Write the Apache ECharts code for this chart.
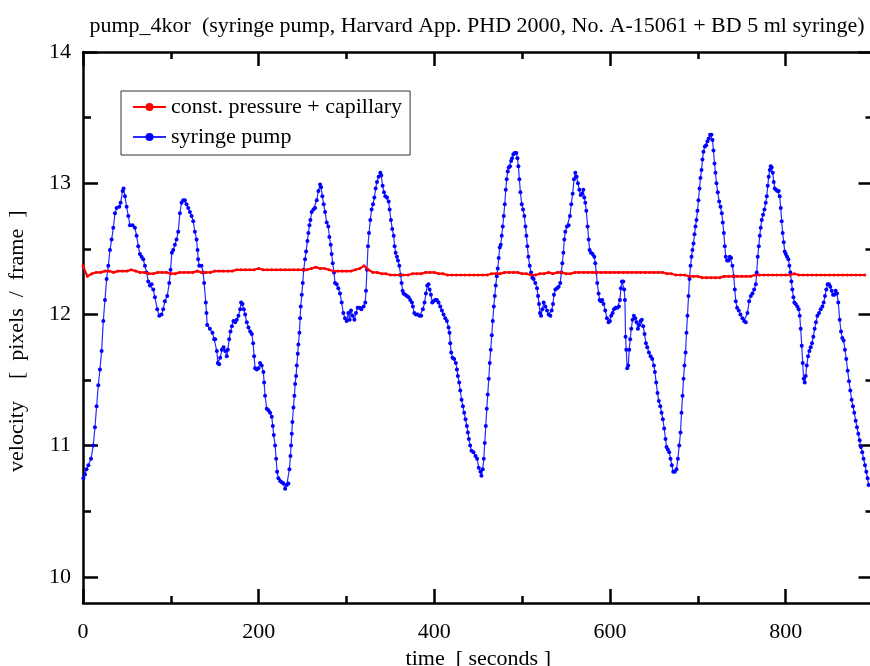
<!DOCTYPE html>
<html>
<head>
<meta charset="utf-8">
<script src="https://cdn.jsdelivr.net/npm/echarts@6/dist/echarts.min.js"></script>
<style>
html,body{margin:0;padding:0;background:#fff;}
#chart{width:870px;height:666px;}
</style>
</head>
<body>
<div id="chart"></div>
<script>
// ---- data ----
const titleText = 'pump_4kor  (syringe pump, Harvard App. PHD 2000, No. A-15061 + BD 5 ml syringe)';
const xName = 'time  [ seconds ]';
const yName = 'velocity    [  pixels  /  frame  ]\u00a0\u00a0\u00a0\u00a0\u00a0';
const seriesNames = ['const. pressure + capillary', 'syringe pump'];

const xMajorTicks = [0, 200, 400, 600, 800];
const xMinorTicks = [100, 300, 500, 700];
const yMajorTicks = [10, 11, 12, 13, 14];
const yMinorTicks = [10.5, 11.5, 12.5, 13.5];

// red series: time (s) and velocity
const redT = [0,5,10,15,20,25,30,35,40,45,50,55,60,65,70,75,80,85,90,95,100,105,110,115,120,125,130,135,140,145,150,155,160,165,170,175,180,185,190,195,200,205,210,215,220,225,230,235,240,245,250,255,260,265,270,275,280,285,290,295,300,305,310,315,320,325,330,335,340,345,350,355,360,365,370,375,380,385,390,395,400,405,410,415,420,425,430,435,440,445,450,455,460,465,470,475,480,485,490,495,500,505,510,515,520,525,530,535,540,545,550,555,560,565,570,575,580,585,590,595,600,605,610,615,620,625,630,635,640,645,650,655,660,665,670,675,680,685,690,695,700,705,710,715,720,725,730,735,740,745,750,755,760,765,770,775,780,785,790,795,800,805,810,815,820,825,830,835,840,845,850,855,860,865,870,875,880,885,890,895,900];
const redV = [12.37,12.29,12.31,12.32,12.32,12.33,12.33,12.32,12.33,12.33,12.33,12.34,12.33,12.32,12.32,12.31,12.31,12.32,12.32,12.32,12.31,12.31,12.32,12.32,12.32,12.32,12.33,12.32,12.32,12.32,12.33,12.33,12.33,12.33,12.33,12.34,12.34,12.34,12.34,12.34,12.35,12.34,12.34,12.34,12.34,12.34,12.34,12.34,12.34,12.34,12.34,12.34,12.35,12.36,12.35,12.35,12.34,12.33,12.33,12.33,12.33,12.33,12.34,12.35,12.37,12.34,12.32,12.32,12.31,12.31,12.30,12.30,12.30,12.30,12.30,12.31,12.31,12.31,12.32,12.32,12.32,12.31,12.31,12.30,12.30,12.30,12.30,12.30,12.30,12.30,12.30,12.30,12.30,12.31,12.31,12.31,12.32,12.32,12.32,12.32,12.31,12.31,12.30,12.30,12.31,12.31,12.32,12.31,12.32,12.32,12.31,12.31,12.32,12.32,12.32,12.32,12.32,12.32,12.32,12.32,12.32,12.32,12.32,12.32,12.32,12.32,12.32,12.32,12.32,12.32,12.32,12.32,12.32,12.31,12.31,12.30,12.30,12.30,12.29,12.29,12.29,12.28,12.28,12.28,12.28,12.28,12.29,12.29,12.29,12.29,12.29,12.29,12.29,12.30,12.30,12.30,12.30,12.30,12.30,12.30,12.30,12.30,12.31,12.30,12.30,12.30,12.30,12.30,12.30,12.30,12.30,12.30,12.30,12.30,12.30,12.30,12.30,12.30,12.30];

// blue series: time (s) and velocity
const blueT = [0.4,2.3,4,6.1,9.1,11.7,13.6,15.5,17.4,19.3,21.2,23.1,25,26.9,28.8,30.7,32.6,34.5,36.4,38.3,41.3,42.8,45.1,46.2,47.8,49.7,51.6,53.4,56.5,59.1,61,62.9,64.8,66.7,68.6,70.5,72.4,74.3,76.2,78.1,80,81.9,84.5,86.8,89.4,91.3,93.2,95.9,98.2,99.7,101.2,102.7,104.6,106.5,108.4,110.3,112.2,114.1,116,117.9,119.8,121.7,123.6,125.5,127.4,129.3,130.4,131.1,132.3,134.9,136.8,137.9,139.8,140.6,141.4,144.4,147.4,149.3,150.5,152.4,153.5,155,156.2,158.1,160,161.9,163.7,164.9,166.4,167.9,169.5,171.3,173.2,175.1,177,178.9,180,181.6,183.1,184.6,186.5,188.4,190.3,192.2,193.7,194.8,195.9,197.8,199.7,201.6,203.5,205.4,206.2,207.3,209.2,211.1,213,214.9,216.1,217.2,218.7,219.9,221,222.5,224.4,226.3,228.2,230.1,232,233.9,235,236.2,236.9,237.7,238.4,239.6,240.7,241.5,242.6,243.4,244.5,245.2,246.4,247.2,247.9,249.1,250.2,251.3,252.8,254,255.5,256.6,257.8,258.9,260.4,262.3,264.2,266.1,268,269.9,271,272.5,274,275.6,277.5,279.3,280.5,282,283.1,284.3,285.8,286.9,288.8,290.7,292.6,294.5,296.4,298.3,300.2,302.1,303.6,305.1,307,309,310.8,312.7,315,316.9,319.5,321.4,322.2,323.3,324.5,325.6,327.1,328.6,330.2,331.7,333.2,334.7,336.6,338.5,339.6,341.1,342.7,344.2,346.1,348,349.1,350.6,352.1,353.7,354.8,355.9,357.4,358.6,360.1,361.6,362.7,363.9,365,366.9,368.8,370.7,372.6,374.5,375.6,377.2,379,380.9,383.2,385.1,387,388.9,390.4,391.9,393.4,394.6,396.1,397.6,399.1,401,402.9,404.8,406.7,408.6,410.5,412.4,414.3,416.2,417.3,418.1,419.2,420.7,422.6,424.5,425.7,426.8,428.3,429.5,431,432.5,434,435.5,437,438.2,439.3,440.8,442.3,444.6,446.9,448.7,450.6,452.5,453.6,455.1,456.3,457.4,458.6,459.7,460.8,462,463.1,464.2,465.4,466.5,467.7,468.8,469.9,471.1,472.2,473.3,474.5,475.6,476.7,477.9,479,480.2,481.3,482.4,483.6,484.7,486.2,487.4,488.5,490,491.5,493.4,494.6,495.7,496.8,498,499.5,501,502.5,503.7,504.8,505.9,507.1,508.6,510.1,511.6,513.1,515,516.9,518.1,519.2,520.3,521.5,523,524.5,526.4,528.3,530.2,532.1,533.6,535.1,536.2,537.8,539.7,541.6,543.4,544.6,545.7,546.9,548,549.1,551,552.9,554.4,555.9,557.5,559,560.5,562,563.5,565.1,566.6,568.1,569.6,570.7,571.9,573,574.5,575.7,576.8,578.3,580.2,582.1,583.2,584.4,585.5,587,588.2,589.7,591.2,592.7,594.6,596.5,598.4,599.9,601.4,603,604.5,606.4,608.3,610.2,611.3,612.4,613.6,615.1,616.2,617,617.7,618.5,619.6,620.8,621.9,623,624.2,625.7,627.2,628.7,630.3,631.8,633.3,634.8,636.3,637.8,639.3,640.9,642.4,644.3,646.2,648.1,650,651.1,652.6,654.1,655.6,657.2,658.7,660.2,661.7,663.2,664.4,665.9,667.4,668.9,670.4,672,673.8,675.7,677.3,678.8,680.3,681.4,682.6,683.7,684.8,686,687.1,688.2,689.4,690.5,691.7,692.8,693.9,695.1,696.2,697.3,698.5,699.6,700.7,701.9,703,704.2,705.3,706.4,708,709.5,711,712.5,714,715.5,716.7,717.8,719,720.1,721.2,722.7,724.3,725.8,727.3,728.4,729.6,730.7,731.8,733.3,734.9,736.4,737.9,739.4,740.9,742.1,743.2,744.7,746.6,748.5,750.8,752.7,754.6,756.5,758.4,760.3,762.2,764.1,766,767.1,768.2,769.4,770.5,771.6,772.8,774.3,775.8,777.3,778.5,779.6,780.7,781.9,783,784.1,785.3,786.4,787.6,789.1,790.6,792.1,793.2,794.4,795.5,796.6,797.8,798.9,800.1,801.6,803.1,804.2,805.4,806.5,807.6,808.8,809.9,811.4,813.3,814.8,816,817.1,818.3,819.4,820.5,821.7,822.8,824,825.5,827,828.5,830,831.5,833,834.5,836.1,838,839.9,841.8,843.3,844.8,846.3,847.8,849.3,850.8,852.4,853.9,855.4,856.9,858.4,859.9,861.5,863,864.5,866,867.5,869,870.6,872.1,873.6,875.1,876.6,878.1,879.7,881.2,882.7,884.2,885.7,887.2,888.7,890.3,891.8,893.3,894.4];
const blueV = [10.75,10.78,10.82,10.85,10.9,11.0,11.14,11.3,11.46,11.58,11.72,11.95,12.11,12.27,12.37,12.49,12.57,12.66,12.77,12.81,12.82,12.85,12.94,12.96,12.9,12.82,12.75,12.68,12.68,12.66,12.6,12.52,12.46,12.44,12.42,12.37,12.32,12.25,12.22,12.23,12.19,12.13,12.04,11.99,12.0,12.04,12.1,12.14,12.24,12.34,12.47,12.49,12.53,12.57,12.63,12.77,12.85,12.87,12.87,12.84,12.81,12.78,12.75,12.71,12.63,12.57,12.49,12.42,12.37,12.37,12.32,12.24,12.09,12.01,11.92,11.89,11.86,11.81,11.81,11.72,11.63,11.62,11.67,11.73,11.75,11.72,11.68,11.73,11.81,11.87,11.91,11.95,11.94,11.96,11.99,12.04,12.09,12.08,12.04,12.0,11.94,11.9,11.87,11.85,11.78,11.68,11.59,11.58,11.59,11.63,11.61,11.56,11.48,11.38,11.28,11.27,11.25,11.22,11.15,11.08,11.0,10.9,10.8,10.75,10.73,10.72,10.71,10.67,10.7,10.71,10.82,10.92,11.0,11.09,11.18,11.29,11.38,11.47,11.53,11.61,11.7,11.77,11.86,11.97,12.06,12.15,12.24,12.34,12.42,12.48,12.56,12.62,12.68,12.72,12.78,12.8,12.81,12.87,12.94,12.99,12.97,12.9,12.84,12.78,12.7,12.67,12.59,12.53,12.46,12.39,12.32,12.24,12.23,12.2,12.16,12.09,12.01,11.97,11.95,12.01,11.96,12.03,11.99,11.96,12.01,12.05,12.05,12.04,12.06,12.09,12.18,12.34,12.52,12.62,12.72,12.8,12.84,12.89,12.96,13.01,13.05,13.08,13.06,12.98,12.93,12.9,12.89,12.86,12.8,12.72,12.65,12.6,12.52,12.47,12.44,12.41,12.37,12.3,12.24,12.18,12.16,12.15,12.14,12.13,12.11,12.09,12.06,12.01,12.0,12.0,11.99,11.99,12.04,12.09,12.16,12.22,12.23,12.19,12.15,12.09,12.1,12.11,12.11,12.09,12.06,12.03,12.0,11.97,11.95,11.9,11.86,11.78,11.71,11.67,11.66,11.63,11.58,11.53,11.48,11.42,11.35,11.3,11.25,11.2,11.15,11.1,11.05,11.0,10.96,10.95,10.92,10.9,10.83,10.8,10.77,10.82,10.9,11.02,11.15,11.28,11.39,11.51,11.63,11.73,11.84,11.95,12.06,12.14,12.22,12.29,12.35,12.43,12.51,12.53,12.6,12.67,12.75,12.84,12.95,13.03,13.09,13.12,13.13,13.17,13.19,13.22,13.23,13.23,13.19,13.13,13.03,12.93,12.84,12.8,12.75,12.67,12.6,12.52,12.44,12.37,12.32,12.28,12.27,12.24,12.2,12.14,12.08,12.01,11.99,12.04,12.09,12.06,12.03,12.0,11.99,12.03,12.08,12.15,12.19,12.2,12.21,12.24,12.32,12.39,12.47,12.57,12.63,12.67,12.68,12.75,12.84,12.92,13.03,13.08,13.05,13.0,12.95,12.91,12.92,12.95,12.89,12.85,12.79,12.67,12.57,12.49,12.47,12.46,12.44,12.39,12.32,12.24,12.16,12.11,12.1,12.11,12.08,12.03,11.97,11.94,11.95,11.99,12.01,12.04,12.05,12.05,12.06,12.11,12.2,12.25,12.25,12.19,12.11,11.83,11.73,11.59,11.61,11.73,11.81,11.89,11.96,11.99,11.97,11.94,11.89,11.92,11.95,11.96,11.91,11.85,11.78,11.75,11.71,11.68,11.66,11.61,11.56,11.48,11.4,11.34,11.3,11.25,11.2,11.13,11.05,10.99,10.97,10.95,10.9,10.85,10.8,10.8,10.82,10.9,11.0,11.1,11.25,11.38,11.51,11.61,11.71,11.86,11.99,12.14,12.27,12.37,12.44,12.49,12.54,12.61,12.67,12.72,12.79,12.87,12.96,13.04,13.1,13.18,13.24,13.28,13.29,13.32,13.34,13.37,13.37,13.33,13.25,13.15,13.08,13.0,12.93,12.86,12.82,12.77,12.7,12.62,12.52,12.44,12.41,12.41,12.44,12.43,12.37,12.29,12.19,12.1,12.05,12.03,12.0,11.97,11.95,11.94,12.01,12.1,12.14,12.16,12.19,12.23,12.32,12.44,12.52,12.6,12.66,12.72,12.76,12.8,12.85,12.9,12.98,13.05,13.1,13.13,13.12,13.08,13.01,12.96,12.95,12.94,12.94,12.9,12.81,12.71,12.62,12.55,12.48,12.46,12.44,12.42,12.37,12.32,12.25,12.19,12.13,12.09,12.08,12.06,12.04,11.99,11.89,11.76,11.63,11.51,11.48,11.53,11.61,11.68,11.72,11.75,11.78,11.83,11.89,11.94,11.99,12.01,12.04,12.06,12.09,12.14,12.19,12.23,12.23,12.21,12.18,12.15,12.15,12.18,12.16,12.09,11.96,11.87,11.82,11.8,11.73,11.66,11.57,11.49,11.42,11.35,11.3,11.25,11.19,11.14,11.09,11.04,10.99,10.95,10.9,10.85,10.8,10.75,10.7];

const redData = redT.map((t, i) => [t, redV[i]]);
const blueData = blueT.map((t, i) => [t, blueV[i]]);

const FONT = '"Liberation Serif", "Times New Roman", serif';
const X_MIN = 0, X_MAX = 900, Y_MIN = 9.8, Y_MAX = 14;
const lineStyleAxis = { color: '#000', width: 2.5 };

function xAx(pos, ticks, len, showLine, labels) {
  return {
    type: 'value', position: pos, min: X_MIN, max: X_MAX,
    axisLine: { show: showLine, onZero: false, lineStyle: lineStyleAxis },
    axisTick: { show: true, inside: true, length: len, customValues: ticks, lineStyle: { color: '#000', width: 2.5 } },
    axisLabel: labels ? { show: true, customValues: ticks, margin: 18, fontFamily: FONT, fontSize: 22, color: '#000' } : { show: false },
    splitLine: { show: false }
  };
}
function yAx(pos, ticks, len, showLine, labels) {
  return {
    type: 'value', position: pos, min: Y_MIN, max: Y_MAX,
    axisLine: { show: showLine, onZero: false, lineStyle: lineStyleAxis },
    axisTick: { show: true, inside: true, length: len, customValues: ticks, lineStyle: { color: '#000', width: 2.5 } },
    axisLabel: labels ? { show: true, customValues: ticks, margin: 12, fontFamily: FONT, fontSize: 22, color: '#000' } : { show: false },
    splitLine: { show: false }
  };
}

const xAxes = [
  xAx('bottom', xMajorTicks, 14, true, true),
  xAx('bottom', xMinorTicks, 7, false, false),
  xAx('top', xMajorTicks, 14, true, false),
  xAx('top', xMinorTicks, 7, false, false)
];
Object.assign(xAxes[0], {
  name: xName, nameLocation: 'middle', nameGap: 43,
  nameTextStyle: { fontFamily: FONT, fontSize: 22, color: '#000' }
});
const yAxes = [
  yAx('left', yMajorTicks, 15, true, true),
  yAx('left', yMinorTicks, 8, false, false),
  yAx('right', yMajorTicks, 15, true, false),
  yAx('right', yMinorTicks, 8, false, false)
];
Object.assign(yAxes[0], {
  name: yName, nameLocation: 'middle', nameGap: 55, nameRotate: 90,
  nameTextStyle: { fontFamily: FONT, fontSize: 22, color: '#000' }
});

const chart = echarts.init(document.getElementById('chart'), null, { renderer: 'canvas' });
chart.setOption({
  animation: false,
  backgroundColor: '#fff',
  title: {
    text: titleText, left: 472, top: 10, textAlign: 'center',
    textStyle: { fontFamily: FONT, fontSize: 22, fontWeight: 'normal', color: '#000' }
  },
  legend: {
    orient: 'vertical', left: 121, top: 91,
    padding: [5, 8, 7, 11], itemGap: 8, itemWidth: 33, itemHeight: 10,
    borderColor: '#333', borderWidth: 1, backgroundColor: '#fff',
    textStyle: { fontFamily: FONT, fontSize: 22, color: '#000' },
    data: seriesNames
  },
  grid: { left: 83, right: -3.5, top: 52, bottom: 63, containLabel: false, outerBoundsMode: 'none' },
  xAxis: xAxes,
  yAxis: yAxes,
  series: [
    {
      name: seriesNames[0], type: 'line', xAxisIndex: 0, yAxisIndex: 0,
      data: redData, symbol: 'circle', symbolSize: 3, showSymbol: true,
      lineStyle: { color: '#ff0000', width: 2.2 }, itemStyle: { color: '#ff0000' }, z: 3
    },
    {
      name: seriesNames[1], type: 'line', xAxisIndex: 0, yAxisIndex: 0,
      data: blueData, symbol: 'circle', symbolSize: 4, showSymbol: true,
      lineStyle: { color: '#2a2aff', width: 1.2 }, itemStyle: { color: '#0000ff' }, z: 2
    }
  ]
});
</script>
</body>
</html>
